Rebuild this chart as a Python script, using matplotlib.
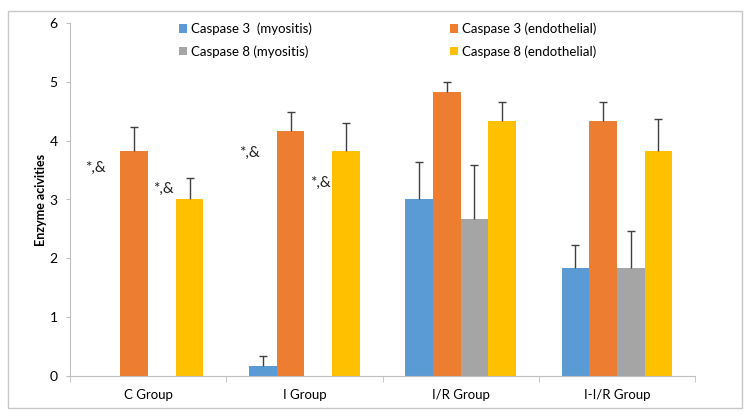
import numpy as np
import matplotlib
matplotlib.use("Agg")
import matplotlib.pyplot as plt
from matplotlib.patches import Rectangle

plt.rcParams['font.family'] = ['Lato', 'DejaVu Sans']

groups = ["C Group", "I Group", "I/R Group", "I-I/R Group"]
series = ["Caspase 3  (myositis)", "Caspase 3 (endothelial)",
          "Caspase 8 (myositis)", "Caspase 8 (endothelial)"]
colors = ["#5b9bd5", "#ed7d31", "#a5a5a5", "#ffc000"]

casp3_myo = [0.0, 0.17, 3.0, 1.83]
casp3_endo = [3.83, 4.17, 4.83, 4.33]
casp8_myo = [0.0, 0.0, 2.67, 1.83]
casp8_endo = [3.0, 3.83, 4.33, 3.83]

casp3_myo_err = [0.0, 0.17, 0.63, 0.4]
casp3_endo_err = [0.4, 0.31, 0.17, 0.33]
casp8_myo_err = [0.0, 0.0, 0.91, 0.64]
casp8_endo_err = [0.37, 0.47, 0.33, 0.54]

# significance marks: (x, y, text)
marks_x = [-0.34, 0.10, 0.65, 1.10]
marks_y = [3.54, 3.18, 3.80, 3.28]
marks_txt = ["*,&", "*,&", "*,&", "*,&"]

values = [casp3_myo, casp3_endo, casp8_myo, casp8_endo]
errors = [casp3_myo_err, casp3_endo_err, casp8_myo_err, casp8_endo_err]

fig = plt.figure(figsize=(7.5, 4.19), dpi=100)
ax = fig.add_axes([70/750, 43/419, 625/750, 353/419])

x = np.arange(len(groups))
w = 0.177
handles = []
for i in range(4):
    vals = np.array(values[i])
    errs = np.array(errors[i])
    pos = x + (i - 1.5) * w
    h = ax.bar(pos, vals, w, color=colors[i], label=series[i], zorder=2)
    handles.append(h)
    show = vals > 0
    eb = ax.errorbar(pos[show], vals[show], yerr=[np.zeros(show.sum()), errs[show]],
                     fmt='none', ecolor='#404040', elinewidth=1, capsize=3,
                     capthick=1, zorder=3)
    eb[1][0].remove()  # drop lower caps

for mx, my, mt in zip(marks_x, marks_y, marks_txt):
    ax.text(mx, my, mt, ha='center', va='center', fontsize=11, color='#222222')

ax.set_xlim(-0.5, 3.5)
ax.set_ylim(0, 6)
ax.set_yticks(range(7))
ax.set_xticks(x)
ax.set_xticklabels(groups, fontsize=9.5)
ax.tick_params(axis='x', length=0, pad=9)
ax.set_xticks(np.arange(-0.5, 4, 1), minor=True)
ax.tick_params(axis='x', which='minor', length=4, color='#bfbfbf')
ax.tick_params(axis='y', length=3, color='#bfbfbf', labelsize=10, pad=6)
for s in ['top', 'right']:
    ax.spines[s].set_visible(False)
for s in ['left', 'bottom']:
    ax.spines[s].set_color('#bfbfbf')
ax.set_ylabel("Enzyme acivities", fontsize=9, fontweight='bold', labelpad=2)

# row-wise legend order: column 1 = myositis, column 2 = endothelial
order = [0, 2, 1, 3]
ax.legend([handles[k] for k in order], [series[k] for k in order],
          ncol=2, loc='upper center', bbox_to_anchor=(0.508, 1.035),
          frameon=False, fontsize=9.5, handlelength=0.6, handleheight=0.6,
          columnspacing=10.5, labelspacing=0.75, handletextpad=0.3)

fig.patches.append(Rectangle((8/750, 11/419), 734/750, 397/419,
                             transform=fig.transFigure, fill=False,
                             edgecolor='#c8c8c8', linewidth=1))

fig.savefig("out.png", dpi=100)
